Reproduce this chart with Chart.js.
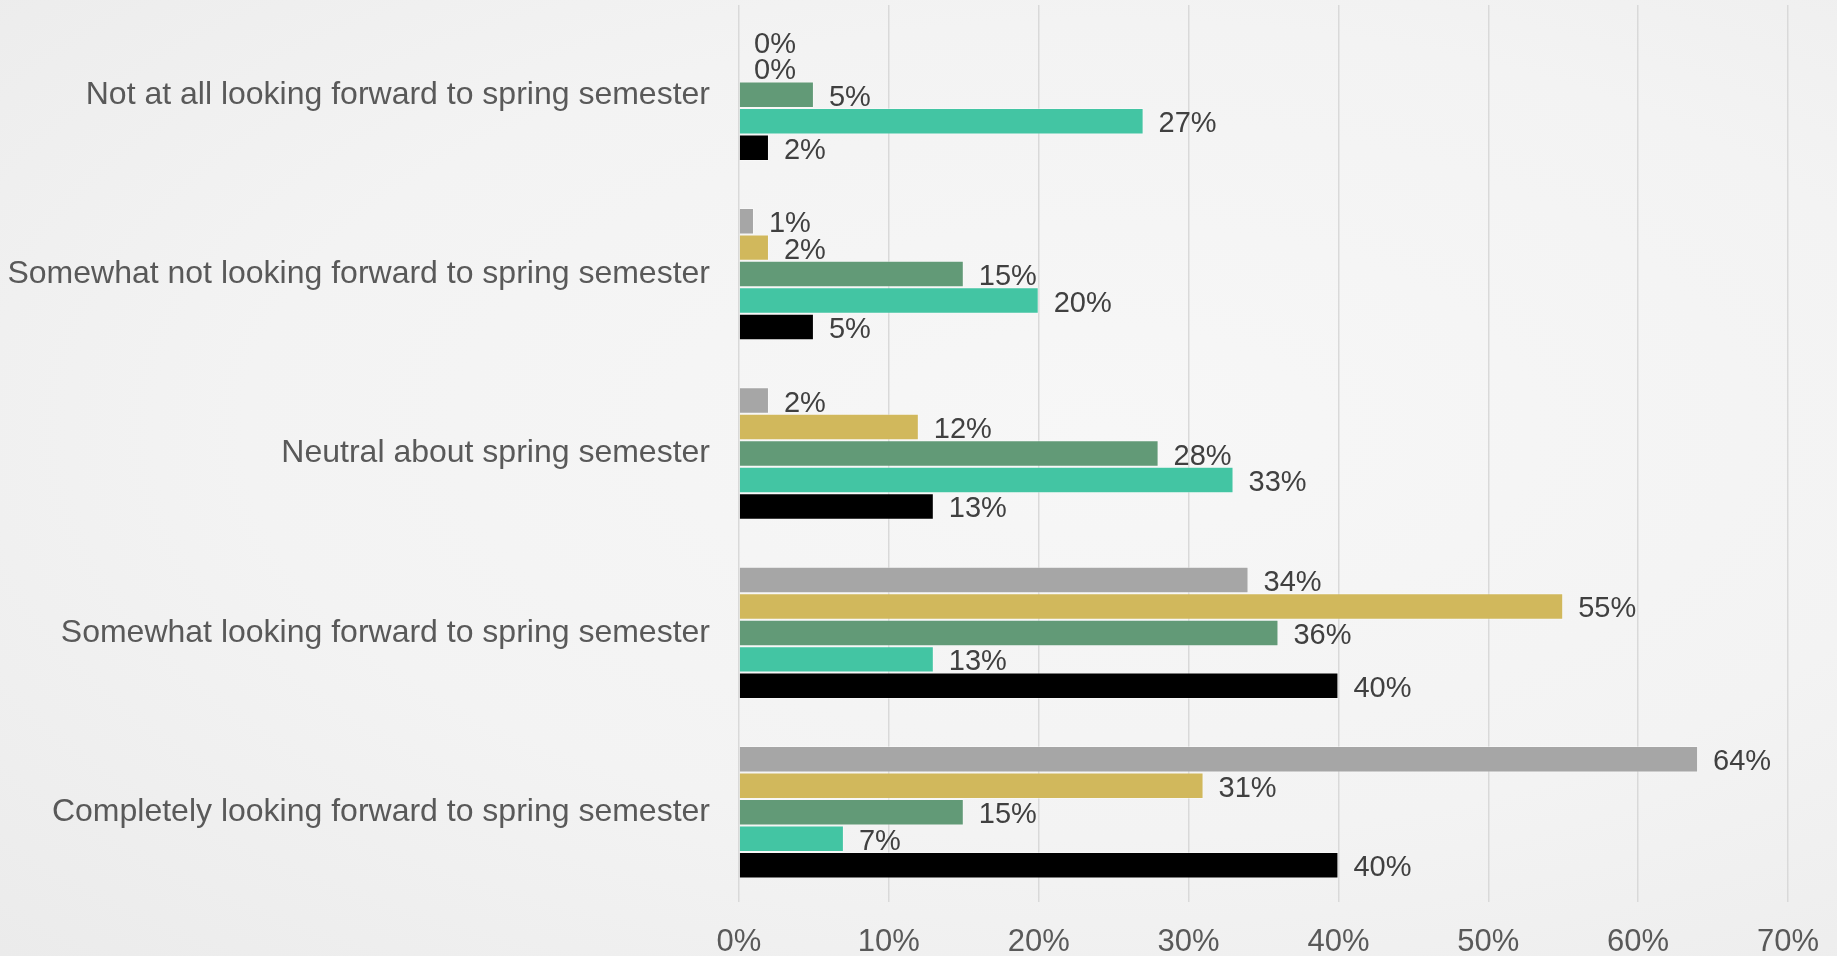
<!DOCTYPE html>
<html>
<head>
<meta charset="utf-8">
<script src="https://cdn.jsdelivr.net/npm/chart.js@4/dist/chart.umd.min.js"></script>
<style>
    html, body { margin: 0; padding: 0; }
    body {
        width: 1837px;
        height: 956px;
        overflow: hidden;
        background: radial-gradient(ellipse at 60% 45%, #f7f7f7 0%, #f3f3f3 55%, #ebebeb 100%);
    }
    #chart { display: block; }
</style>
</head>
<body>
<canvas id="chart" width="1837" height="956"></canvas>
<script>
// --- Data ---
const categories = [
    'Not at all looking forward to spring semester',
    'Somewhat not looking forward to spring semester',
    'Neutral about spring semester',
    'Somewhat looking forward to spring semester',
    'Completely looking forward to spring semester'
];

const seriesNames = ['Group 1', 'Group 2', 'Group 3', 'Group 4', 'Group 5'];
const seriesColors = ['#a6a6a6', '#d1b85c', '#629a77', '#43c5a3', '#000000'];

const group1 = [0, 1, 2, 34, 64];
const group2 = [0, 2, 12, 55, 31];
const group3 = [5, 15, 28, 36, 15];
const group4 = [27, 20, 33, 13, 7];
const group5 = [2, 5, 13, 40, 40];

const xTicks = [0, 10, 20, 30, 40, 50, 60, 70];

const FONT = '"Liberation Sans", Arial, sans-serif';

// draws the "NN%" text just past the end of each bar
const valueLabels = {
    id: 'valueLabels',
    afterDatasetsDraw(chart) {
        const ctx = chart.ctx;
        ctx.save();
        ctx.font = '29px ' + FONT;
        ctx.fillStyle = '#404040';
        ctx.textAlign = 'left';
        ctx.textBaseline = 'middle';
        chart.data.datasets.forEach((ds, i) => {
            chart.getDatasetMeta(i).data.forEach((bar, j) => {
                ctx.fillText(ds.data[j] + '%', bar.x + 15, bar.y + 3);
            });
        });
        ctx.restore();
    }
};

const seriesData = [group1, group2, group3, group4, group5];

new Chart(document.getElementById('chart').getContext('2d'), {
    type: 'bar',
    data: {
        labels: categories,
        datasets: seriesData.map((d, i) => ({
            label: seriesNames[i],
            data: d,
            backgroundColor: seriesColors[i],
            borderColor: 'rgba(255,255,255,0.35)',
            borderWidth: 1,
            categoryPercentage: 0.738,
            barPercentage: 1.0
        }))
    },
    options: {
        indexAxis: 'y',
        responsive: false,
        animation: false,
        devicePixelRatio: 1,
        layout: { padding: { top: 5, right: 49, left: 0, bottom: 0 } },
        scales: {
            x: {
                min: 0,
                max: 70,
                afterFit: (scale) => {
                    scale.height = 54;
                    scale.paddingLeft = 0;
                    scale.paddingRight = 0;
                },
                afterBuildTicks: (scale) => { scale.ticks = xTicks.map(v => ({ value: v })); },
                grid: { color: '#d9d9d9', lineWidth: 1.5, drawTicks: false },
                border: { display: false },
                ticks: {
                    padding: 22,
                    color: '#595959',
                    font: { family: FONT, size: 31 },
                    callback: (v) => v + '%'
                }
            },
            y: {
                afterFit: (scale) => {
                    scale.width = 739;
                    // label padding should not push the plot area down
                    scale.paddingTop = 0;
                    scale.paddingBottom = 0;
                },
                grid: { display: false, drawTicks: false },
                border: { display: false },
                ticks: {
                    padding: 29,
                    color: '#595959',
                    font: { family: FONT, size: 32 }
                }
            }
        },
        plugins: {
            legend: { display: false },
            tooltip: { enabled: false }
        }
    },
    plugins: [valueLabels]
});
</script>
</body>
</html>
